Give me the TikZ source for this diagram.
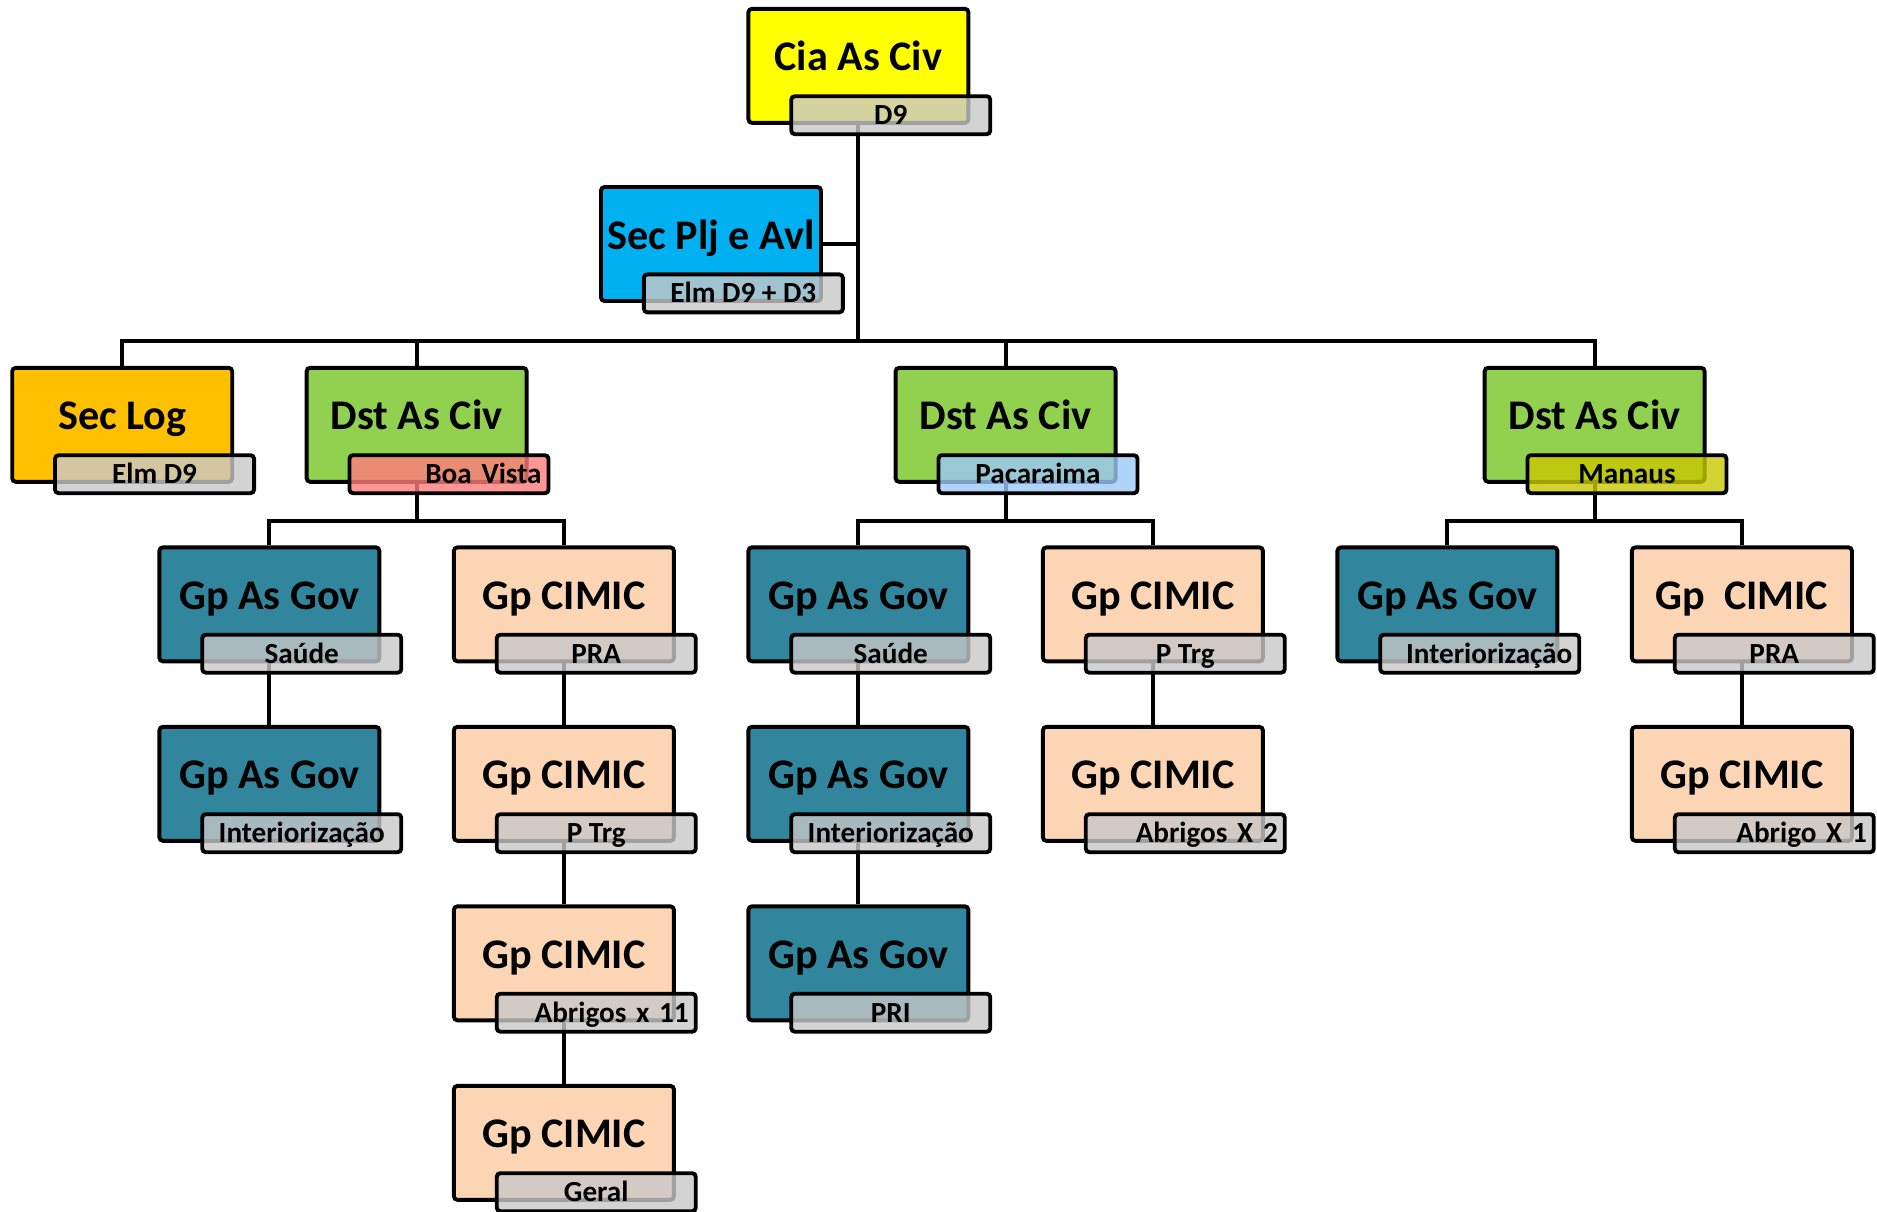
\documentclass[tikz,border=0pt]{standalone}
\usepackage{fontspec}
\setmainfont{Carlito}
\usepackage{tikz}
\usetikzlibrary{positioning,backgrounds}

\definecolor{ciayel}{HTML}{FFFF00}
\definecolor{pljblue}{HTML}{00B0F0}
\definecolor{logorange}{HTML}{FFC000}
\definecolor{dstgreen}{HTML}{92D050}
\definecolor{govteal}{HTML}{31859C}
\definecolor{cimpeach}{HTML}{FCD5B5}
\definecolor{taggrey}{HTML}{C8C8C8}
\definecolor{tagred}{HTML}{FF7C7C}
\definecolor{tagblue}{HTML}{9CC8F8}
\definecolor{tagolive}{HTML}{C8C800}

\begin{document}
\begin{tikzpicture}[line width=1.1pt,
  unitbox/.style={draw,rounded corners=1pt,minimum width=2.2cm,minimum height=1.14cm,inner sep=0pt,
    font=\bfseries\fontsize{12}{14}\selectfont,text height=0.3cm,text depth=0.2cm},
  tag/.style={draw,rounded corners=1pt,fill=taggrey,fill opacity=0.8,text opacity=1,
    minimum width=1.99cm,minimum height=0.38cm,inner sep=0pt,
    font=\bfseries\fontsize{8.3}{10}\selectfont,text height=0.22cm,text depth=0.03cm},
  tagof/.style={tag,below right=-3.05mm and -18.1mm of #1},
  tagr/.style={text width=1.85cm,align=right},
  link/.style={line width=1.1pt}]
\useasboundingbox (0,0) rectangle (18.77,-12.11);

% top
\node[unitbox,fill=ciayel] (cia) at (8.584,-0.658) {Cia As Civ};
\node[tagof=cia.south east] (cia-t) {D9};
\node[unitbox,fill=pljblue] (plj) at (7.11,-2.44) {Sec Plj e Avl};
\node[tagof=plj.south east] (plj-t) {Elm D9 + D3};

% second level
\node[unitbox,fill=logorange] (log) at (1.222,-4.248) {Sec Log};
\node[tagof=log.south east] (log-t) {Elm D9};
\node[unitbox,fill=dstgreen] (bv) at (4.166,-4.248) {Dst As Civ};
\node[tagof=bv.south east,fill=tagred,tagr] (bv-t) {Boa Vista};
\node[unitbox,fill=dstgreen] (pc) at (10.056,-4.248) {Dst As Civ};
\node[tagof=pc.south east,fill=tagblue] (pc-t) {Pacaraima};
\node[unitbox,fill=dstgreen] (mn) at (15.946,-4.248) {Dst As Civ};
\node[tagof=mn.south east,fill=tagolive] (mn-t) {Manaus};

% Boa Vista
\node[unitbox,fill=govteal] (bv-gov1) at (2.694,-6.043) {Gp As Gov};
\node[tagof=bv-gov1.south east] (bv-gov1-t) {Saúde};
\node[unitbox,fill=govteal] (bv-gov2) at (2.694,-7.838) {Gp As Gov};
\node[tagof=bv-gov2.south east] (bv-gov2-t) {Interiorização};
\node[unitbox,fill=cimpeach] (bv-cim1) at (5.639,-6.043) {Gp CIMIC};
\node[tagof=bv-cim1.south east] (bv-cim1-t) {PRA};
\node[unitbox,fill=cimpeach] (bv-cim2) at (5.639,-7.838) {Gp CIMIC};
\node[tagof=bv-cim2.south east] (bv-cim2-t) {P Trg};
\node[unitbox,fill=cimpeach] (bv-cim3) at (5.639,-9.633) {Gp CIMIC};
\node[tagof=bv-cim3.south east,tagr] (bv-cim3-t) {Abrigos x 11};
\node[unitbox,fill=cimpeach] (bv-cim4) at (5.639,-11.428) {Gp CIMIC};
\node[tagof=bv-cim4.south east] (bv-cim4-t) {Geral};

% Pacaraima
\node[unitbox,fill=govteal] (pc-gov1) at (8.584,-6.043) {Gp As Gov};
\node[tagof=pc-gov1.south east] (pc-gov1-t) {Saúde};
\node[unitbox,fill=govteal] (pc-gov2) at (8.584,-7.838) {Gp As Gov};
\node[tagof=pc-gov2.south east] (pc-gov2-t) {Interiorização};
\node[unitbox,fill=govteal] (pc-gov3) at (8.584,-9.633) {Gp As Gov};
\node[tagof=pc-gov3.south east] (pc-gov3-t) {PRI};
\node[unitbox,fill=cimpeach] (pc-cim1) at (11.529,-6.043) {Gp CIMIC};
\node[tagof=pc-cim1.south east] (pc-cim1-t) {P Trg};
\node[unitbox,fill=cimpeach] (pc-cim2) at (11.529,-7.838) {Gp CIMIC};
\node[tagof=pc-cim2.south east,tagr] (pc-cim2-t) {Abrigos X 2};

% Manaus
\node[unitbox,fill=govteal] (mn-gov1) at (14.474,-6.043) {Gp As Gov};
\node[tagof=mn-gov1.south east,tagr] (mn-gov1-t) {Interiorização};
\node[unitbox,fill=cimpeach] (mn-cim1) at (17.419,-6.043) {Gp\ \ CIMIC};
\node[tagof=mn-cim1.south east] (mn-cim1-t) {PRA};
\node[unitbox,fill=cimpeach] (mn-cim2) at (17.419,-7.838) {Gp CIMIC};
\node[tagof=mn-cim2.south east,tagr] (mn-cim2-t) {Abrigo X 1};

% connectors
\coordinate (bus) at (0,-3.41);
\coordinate (sub) at (0,-5.207);
\begin{scope}[on background layer,link]
\draw[link] (cia) -- (cia|-bus); \draw[link] (plj) -- (plj-|cia);
\draw[link] (log) |- (mn|-bus) -- (mn); \draw[link] (bv) -- (bv|-bus); \draw[link] (pc) -- (pc|-bus);
\draw[link] (bv) -- (bv|-sub); \draw[link] (bv-gov1) |- (bv-cim1|-sub) -- (bv-cim1);
\draw[link] (pc) -- (pc|-sub); \draw[link] (pc-gov1) |- (pc-cim1|-sub) -- (pc-cim1);
\draw[link] (mn) -- (mn|-sub); \draw[link] (mn-gov1) |- (mn-cim1|-sub) -- (mn-cim1);
\draw[link] (bv-gov1) -- (bv-gov2); \draw[link] (bv-cim1) -- (bv-cim2) -- (bv-cim3) -- (bv-cim4);
\draw[link] (pc-gov1) -- (pc-gov2) -- (pc-gov3); \draw[link] (pc-cim1) -- (pc-cim2);
\draw[link] (mn-cim1) -- (mn-cim2);
\end{scope}
\end{tikzpicture}
\end{document}
